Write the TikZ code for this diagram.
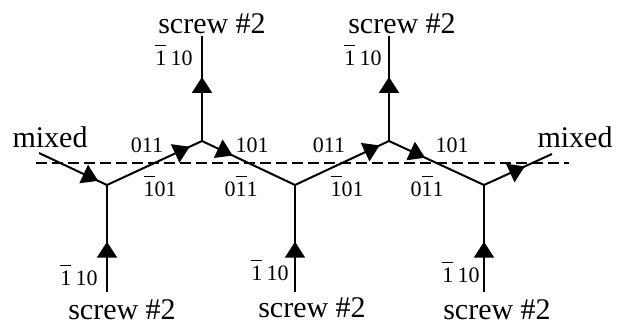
\documentclass[tikz,border=0pt]{standalone}
\usepackage{fontspec}
\setmainfont{Liberation Serif}
\usetikzlibrary{arrows.meta,decorations.markings}

\newcommand{\ol}[1]{$\overline{\mbox{#1}\vphantom{\rule{0pt}{0.86em}}}$}

\tikzset{
	flow/.style={postaction={decorate},
		decoration={markings, mark=at position #1 with {\arrow{Triangle[length=16pt,width=20pt]}}}},
}

\begin{document}
\begin{tikzpicture}[x=1pt, y=-1pt, line width=2pt]
			\useasboundingbox (0,0) rectangle (620,332);

			% junctions and free ends
			\coordinate (a) at (107,185);
			\coordinate (b) at (202,141);
			\coordinate (c) at (295,185);
			\coordinate (d) at (389,141);
			\coordinate (e) at (484,185);
			\coordinate (lend) at (39,153);
			\coordinate (rend) at (552,154);
			\coordinate (btop) at (202,36);
			\coordinate (dtop) at (389,36);
			\coordinate (abot) at (107,292);
			\coordinate (cbot) at (295,292);
			\coordinate (ebot) at (484,292);
			\coordinate (dl) at (36,163);
			\coordinate (dr) at (569,163);

			\begin{scope}[every node/.style={font=\fontsize{30}{34}\selectfont, inner sep=0pt}]
				\node (mixl) at (50,137) {mixed};
				\node (mixr) at (575,137) {mixed};
				\node (sb) at (212,24) {screw \#2};
				\node (sd) at (402,24) {screw \#2};
				\node (sa) at (122,310) {screw \#2};
				\node (sc) at (312,308) {screw \#2};
				\node (se) at (497,310) {screw \#2};
			\end{scope}

			\begin{scope}[every node/.style={font=\fontsize{22}{25}\selectfont, inner sep=0pt}]
				\node (lb) at (174,55) {\ol{1}\hspace{0.2em}10};
				\node (ld) at (363,55) {\ol{1}\hspace{0.2em}10};
				\node (la) at (79,275) {\ol{1}\hspace{0.2em}10};
				\node (lc) at (270,270) {\ol{1}\hspace{0.2em}10};
				\node (le) at (461,272) {\ol{1}\hspace{0.2em}10};
				\node (ab1) at (147,145) {011};
				\node (ab2) at (160,186) {\ol{1}01};
				\node (bc1) at (252,145) {101};
				\node (bc2) at (241,186) {0\ol{1}1};
				\node (cd1) at (329,145) {011};
				\node (cd2) at (347,186) {\ol{1}01};
				\node (de1) at (452,145) {101};
				\node (de2) at (427,186) {0\ol{1}1};
			\end{scope}

			\draw[dash pattern=on 11pt off 5pt] (dl) -- (dr);

			\draw[flow=0.87] (lend) -- (a);
			\draw[flow=0.87] (a) -- (b);
			\draw[flow=0.33] (b) -- (c);
			\draw[flow=0.9] (c) -- (d);
			\draw[flow=0.38] (d) -- (e);
			\draw[flow=0.6] (e) -- (rend);
			\draw[flow=0.47] (abot) -- (a);
			\draw[flow=0.47] (cbot) -- (c);
			\draw[flow=0.47] (ebot) -- (e);
			\draw[flow=0.61] (b) -- (btop);
			\draw[flow=0.61] (d) -- (dtop);
		\end{tikzpicture}
\end{document}
